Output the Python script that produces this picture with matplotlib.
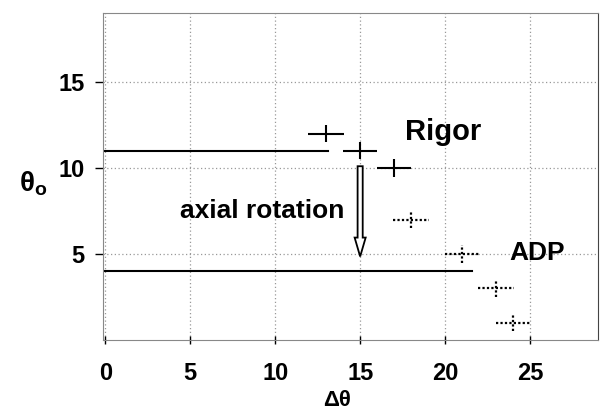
import numpy as np
import matplotlib.pyplot as plt
from matplotlib.patches import FancyArrow

plt.rcParams['font.family'] = ['Liberation Sans', 'DejaVu Sans']

# rigor states (solid crosses)
rigor_x = [13, 15, 17]
rigor_y = [12, 11, 10]
rigor_xerr = [1.05, 1.0, 1.0]

# ADP states (dotted crosses)
adp_x = [18, 21, 23, 24]
adp_y = [7, 5, 3, 1]
adp_xerr = [1.05, 1.0, 1.05, 1.0]

# reference levels: (y, x end)
level_y = [11, 4]
level_xend = [13.1, 21.6]

xticks = [0, 5, 10, 15, 20, 25]
yticks = [5, 10, 15]


def draw_cross(ax, x, y, xerr, ls, lw):
	eb = ax.errorbar(x, y, xerr=xerr, yerr=0.5, fmt='none', ecolor='black',
		elinewidth=lw, capsize=0)
	for c in eb[2]:
		c.set_linestyle(ls)


def main():
	fig = plt.figure(figsize=(6.01, 4.12), dpi=100)
	ax = fig.add_axes([0.171, 0.175, 0.824, 0.793])

	ax.set_xlim(-0.15, 29)
	ax.set_ylim(0, 19)

	ax.grid(True, linestyle=(0, (1, 2)), color='#999999', linewidth=0.9)
	ax.set_axisbelow(True)

	for y, xe in zip(level_y, level_xend):
		ax.plot([0, xe], [y, y], color='black', lw=1.5)

	draw_cross(ax, rigor_x, rigor_y, rigor_xerr, '-', 1.5)
	draw_cross(ax, adp_x, adp_y, adp_xerr, (0, (1, 1)), 1.6)

	# hollow arrow for the axial rotation
	ax.add_patch(FancyArrow(15, 10.1, 0, -5.25, width=0.3, head_width=0.65,
		head_length=1.1, length_includes_head=True, fc='white', ec='black', lw=1.3))

	ax.text(17.65, 11.63, "Rigor", fontsize=21, fontweight='bold', va='baseline')
	ax.text(4.41, 7.09, "axial rotation", fontsize=19, fontweight='bold', va='baseline')
	ax.text(23.8, 4.65, "ADP", fontsize=19, fontweight='bold', va='baseline')

	ax.set_xticks(xticks)
	ax.set_yticks(yticks)
	ax.tick_params(axis='y', direction='out', length=6, width=1, pad=7, labelsize=17)
	ax.tick_params(axis='x', direction='inout', length=6, width=1, pad=13, labelsize=17)
	for lab in ax.get_xticklabels() + ax.get_yticklabels():
		lab.set_fontweight('bold')

	for side in ['left', 'bottom', 'top']:
		ax.spines[side].set_color('#888888')
	ax.spines['right'].set_color('#444444')

	fig.text(0.055, 0.555, r'$\mathregular{θ_o}$', fontsize=20, fontweight='bold',
		ha='center', va='center')
	fig.text(0.561, 0.029, "Δθ", fontsize=16, fontweight='bold', ha='center', va='center')

	fig.savefig("out.png", dpi=100)


if __name__ == "__main__":
	main()
